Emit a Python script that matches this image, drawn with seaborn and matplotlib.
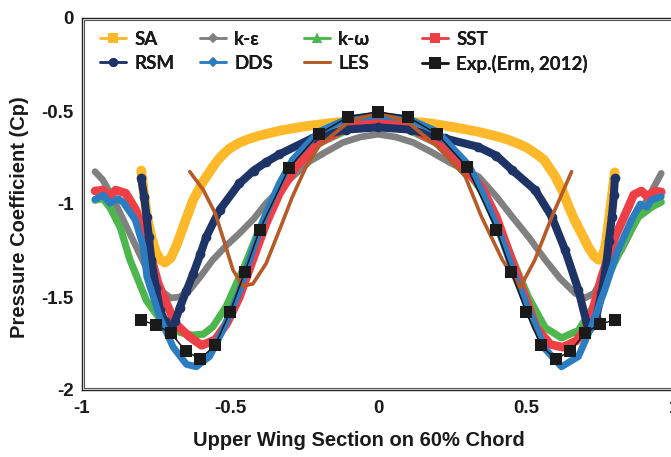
import matplotlib
matplotlib.use("Agg")
import matplotlib.pyplot as plt
import seaborn as sns
import pandas as pd
from matplotlib.lines import Line2D
from matplotlib.patches import Rectangle

# ---------------- data ----------------
sa_x = [-0.80, -0.79, -0.78, -0.765, -0.75, -0.735, -0.72, -0.70, -0.68, -0.655, -0.625, -0.593, -0.56,
        -0.54, -0.52, -0.50, -0.47, -0.44, -0.40, -0.33, -0.25, -0.165, -0.08, 0.0, 0.08, 0.18, 0.26,
        0.337, 0.41, 0.44, 0.471, 0.50, 0.52, 0.54, 0.561, 0.598, 0.625, 0.643, 0.665, 0.688, 0.71,
        0.73, 0.745, 0.757, 0.768, 0.775, 0.782, 0.79, 0.80]
sa_y = [-0.82, -0.95, -1.07, -1.18, -1.26, -1.30, -1.315, -1.29, -1.22, -1.11, -0.98, -0.885, -0.805,
        -0.762, -0.728, -0.70, -0.672, -0.652, -0.632, -0.605, -0.583, -0.566, -0.552, -0.545, -0.552,
        -0.567, -0.588, -0.611, -0.64, -0.655, -0.674, -0.695, -0.715, -0.737, -0.763, -0.85, -0.935,
        -1.01, -1.09, -1.16, -1.23, -1.28, -1.30, -1.285, -1.23, -1.15, -1.06, -0.96, -0.83]

ke_x = [-0.956, -0.93, -0.905, -0.88, -0.85, -0.82, -0.79, -0.76, -0.73, -0.70, -0.67, -0.635, -0.60,
        -0.558, -0.51, -0.468, -0.42, -0.378, -0.33, -0.289, -0.23, -0.176, -0.12, -0.06, 0.0, 0.06,
        0.12, 0.18, 0.24, 0.29, 0.34, 0.40, 0.453, 0.51, 0.565, 0.615, 0.666, 0.70, 0.73, 0.755,
        0.79, 0.823, 0.857, 0.89, 0.925, 0.957]
ke_y = [-0.826, -0.87, -0.94, -1.02, -1.12, -1.22, -1.32, -1.41, -1.47, -1.505, -1.50, -1.46, -1.39,
        -1.30, -1.22, -1.158, -1.08, -0.996, -0.92, -0.853, -0.77, -0.72, -0.67, -0.64, -0.625, -0.64,
        -0.67, -0.72, -0.775, -0.815, -0.853, -0.96, -1.068, -1.18, -1.30, -1.40, -1.48, -1.505, -1.48,
        -1.41, -1.33, -1.247, -1.14, -1.03, -0.93, -0.835]

kw_x = [-0.956, -0.93, -0.905, -0.87, -0.838, -0.782, -0.727, -0.67, -0.625, -0.59, -0.558, -0.513,
        -0.479, -0.45, -0.40, -0.35, -0.30, -0.25, -0.20, -0.10, 0.0, 0.10, 0.20, 0.30, 0.35, 0.40,
        0.45, 0.508, 0.565, 0.62, 0.677, 0.72, 0.75, 0.78, 0.834, 0.88, 0.924, 0.957]
kw_y = [-0.98, -0.97, -1.02, -1.13, -1.30, -1.52, -1.64, -1.69, -1.705, -1.70, -1.66, -1.552, -1.43,
        -1.33, -1.13, -0.96, -0.83, -0.74, -0.675, -0.60, -0.575, -0.60, -0.675, -0.82, -0.93, -1.08,
        -1.28, -1.50, -1.665, -1.72, -1.68, -1.57, -1.48, -1.378, -1.20, -1.07, -1.017, -0.99]

sst_x = [-0.956, -0.93, -0.906, -0.886, -0.852, -0.818, -0.785, -0.742, -0.686, -0.64, -0.596, -0.55,
         -0.51, -0.468, -0.423, -0.378, -0.333, -0.277, -0.2, -0.1, 0.0, 0.1, 0.2, 0.28, 0.35, 0.40,
         0.445, 0.49, 0.535, 0.582, 0.624, 0.67, 0.714, 0.755, 0.80, 0.845, 0.864, 0.89, 0.91, 0.935,
         0.957]
sst_y = [-0.93, -0.925, -0.96, -0.925, -0.942, -1.032, -1.18, -1.43, -1.64, -1.71, -1.76, -1.73, -1.64,
         -1.50, -1.30, -1.104, -0.943, -0.80, -0.67, -0.585, -0.555, -0.585, -0.67, -0.79, -0.907, -1.07,
         -1.27, -1.467, -1.665, -1.755, -1.77, -1.736, -1.64, -1.395, -1.18, -1.02, -0.95, -0.93, -0.96,
         -0.93, -0.935]

rsm_x = [-0.80, -0.79, -0.782, -0.774, -0.766, -0.75, -0.737, -0.72, -0.70, -0.685, -0.67, -0.648,
         -0.625, -0.60, -0.58, -0.535, -0.468, -0.42, -0.378, -0.333, -0.221, -0.109, 0.0, 0.11, 0.225,
         0.337, 0.40, 0.453, 0.531, 0.587, 0.632, 0.677, 0.705, 0.714, 0.725, 0.737, 0.755, 0.77,
         0.78, 0.79, 0.797, 0.80]
rsm_y = [-0.862, -0.96, -1.068, -1.18, -1.30, -1.45, -1.57, -1.63, -1.67, -1.63, -1.557, -1.47,
         -1.378, -1.27, -1.176, -1.032, -0.889, -0.82, -0.775, -0.733, -0.645, -0.60, -0.588, -0.60,
         -0.647, -0.692, -0.74, -0.817, -0.925, -1.068, -1.247, -1.462, -1.64, -1.665, -1.65, -1.61,
         -1.48, -1.34, -1.20, -1.068, -0.95, -0.862]

dds_x = [-0.956, -0.928, -0.906, -0.878, -0.861, -0.82, -0.793, -0.781, -0.737, -0.692, -0.647, -0.614,
         -0.569, -0.524, -0.468, -0.423, -0.378, -0.333, -0.289, -0.199, -0.098, 0.0, 0.098, 0.199,
         0.306, 0.35, 0.407, 0.463, 0.52, 0.565, 0.62, 0.677, 0.721, 0.765, 0.81, 0.855, 0.886, 0.908,
         0.924, 0.957]
dds_y = [-0.975, -0.952, -0.996, -0.972, -0.99, -1.086, -1.23, -1.39, -1.61, -1.77, -1.862, -1.875,
         -1.82, -1.677, -1.468, -1.247, -1.05, -0.889, -0.763, -0.61, -0.539, -0.525, -0.539, -0.61,
         -0.79, -0.93, -1.14, -1.39, -1.61, -1.78, -1.875, -1.82, -1.66, -1.467, -1.25, -1.09, -1.0,
         -1.017, -0.978, -0.96]

les_x = [-0.636, -0.59, -0.55, -0.518, -0.49, -0.457, -0.423, -0.378, -0.333, -0.289, -0.243, -0.2,
         -0.1, 0.0, 0.1, 0.2, 0.295, 0.35, 0.42, 0.48, 0.53, 0.587, 0.632, 0.654]
les_y = [-0.826, -0.925, -1.05, -1.21, -1.355, -1.44, -1.43, -1.32, -1.14, -0.96, -0.80, -0.69,
         -0.56, -0.505, -0.56, -0.69, -0.853, -1.07, -1.30, -1.45, -1.30, -1.07, -0.907, -0.826]

exp_x = [-0.80, -0.75, -0.70, -0.65, -0.60, -0.55, -0.50, -0.45, -0.40, -0.30, -0.20, -0.10, 0.0,
         0.10, 0.20, 0.30, 0.40, 0.45, 0.50, 0.55, 0.60, 0.65, 0.70, 0.75, 0.80]
exp_y = [-1.624, -1.651, -1.694, -1.790, -1.833, -1.758, -1.581, -1.366, -1.140, -0.805, -0.624,
         -0.531, -0.504, -0.531, -0.624, -0.80, -1.140, -1.364, -1.581, -1.758, -1.835, -1.790, -1.694,
         -1.645, -1.624]

x_ticks = [-1, -0.5, 0, 0.5, 1]
x_tick_labels = ["-1", "-0.5", "0", "0.5", "1"]
y_ticks = [0, -0.5, -1, -1.5, -2]
y_tick_labels = ["0", "-0.5", "-1", "-1.5", "-2"]

# ---------------- styling ----------------
sns.set_theme(style="white")
plt.rcParams["font.family"] = ["Liberation Sans", "DejaVu Sans"]
plt.rcParams["font.weight"] = "bold"

W, H = 671, 457
fig = plt.figure(figsize=(W / 100, H / 100), dpi=100)
ax_l, ax_r, ax_t, ax_b = 82, 674, 18, 390
ax = fig.add_axes([ax_l / W, 1 - ax_b / H, (ax_r - ax_l) / W, (ax_b - ax_t) / H])

C_SA = "#FDB92A"
C_KE = "#808080"
C_KW = "#4DB74D"
C_SST = "#EE3F47"
C_RSM = "#1E3466"
C_DDS = "#2B7CC1"
C_LES = "#B65A28"
C_EXP = "#1A1A1A"

def draw(x, y, color, lw, marker=None, ms=0, z=2):
    df = pd.DataFrame({"x": x, "y": y})
    sns.lineplot(data=df, x="x", y="y", ax=ax, sort=False, estimator=None, color=color,
                 linewidth=lw, marker=marker, markersize=ms, markeredgewidth=0,
                 solid_capstyle="round", solid_joinstyle="round", zorder=z, legend=False)

draw(sa_x, sa_y, C_SA, 7.0, z=2)
draw(ke_x, ke_y, C_KE, 4.8, z=3)
draw(kw_x, kw_y, C_KW, 5.2, z=4)
draw(sst_x, sst_y, C_SST, 6.2, z=5)
draw(rsm_x, rsm_y, C_RSM, 5.8, marker="o", ms=7, z=6)
draw(dds_x, dds_y, C_DDS, 5.0, z=7)
draw(les_x, les_y, C_LES, 2.6, z=8)
draw(exp_x, exp_y, C_EXP, 1.1, marker="s", ms=8.5, z=9)

ax.set_xlim(-1, 1)
ax.set_ylim(-2, 0)
ax.set_xticks(x_ticks)
ax.set_xticklabels(x_tick_labels)
ax.set_yticks(y_ticks)
ax.set_yticklabels(y_tick_labels)
ax.tick_params(axis="both", length=0, labelsize=13.5, colors="#1a1a1a")
ax.tick_params(axis="x", pad=7)
ax.tick_params(axis="y", pad=6)
for lab in ax.get_xticklabels() + ax.get_yticklabels():
    lab.set_fontweight("bold")
ax.set_xlabel("Upper Wing Section on 60% Chord", fontsize=14.5, fontweight="bold",
              color="#1a1a1a")
ax.set_ylabel("Pressure Coefficient (Cp)", fontsize=14.5, fontweight="bold",
              color="#1a1a1a")
ax.xaxis.set_label_coords((359 - ax_l) / (ax_r - ax_l), -(440 - ax_b) / (ax_b - ax_t))
ax.yaxis.set_label_coords((20 - ax_l) / (ax_r - ax_l), (ax_b - 217) / (ax_b - ax_t))
ax.xaxis.label.set_verticalalignment("center")
ax.yaxis.label.set_verticalalignment("center")
ax.grid(False)
for s in ax.spines.values():
    s.set_visible(True)
    s.set_color("#222222")
    s.set_linewidth(1.0)
# inner line of the double frame
dx = 2.4 / (ax_r - ax_l)
dy = 2.4 / (ax_b - ax_t)
ax.add_patch(Rectangle((dx, dy), 1 - 2 * dx, 1 - 2 * dy, transform=ax.transAxes, fill=False,
                       edgecolor="#555555", linewidth=0.8, zorder=10, clip_on=False))

# ---------------- legend (4 columns placed like the reference) ----------------
def h(color, marker=None, ms=0, lw=1.8):
    return Line2D([0], [0], color=color, lw=lw, marker=marker, markersize=ms,
                  markeredgewidth=0)

cols = [
    (100, [h(C_SA, "s", 7.5), h(C_RSM, "o", 6.5)], ["SA", "RSM"]),
    (200, [h(C_KE, "D", 5), h(C_DDS, "D", 5)], ["k-ε", "DDS"]),
    (304, [h(C_KW, "^", 7.5), h(C_LES, None, 0, 2.0)], ["k-ω", "LES"]),
    (422, [h(C_SST, "s", 7.5), h(C_EXP, "s", 8.5)], ["SST", "Exp.(Erm, 2012)"]),
]
for px, handles, labels in cols:
    leg = fig.legend(handles, labels, loc="upper left", bbox_to_anchor=(px / W, 1 - 31 / H),
                     frameon=False, prop={"family": ["Lato", "DejaVu Sans"],
                                          "weight": "bold", "size": 13.5},
                     handlelength=1.4, handletextpad=0.42, labelspacing=0.36,
                     borderpad=0, borderaxespad=0)
    for t in leg.get_texts():
        t.set_color("#1a1a1a")
    fig.add_artist(leg)

fig.savefig("out.png", dpi=100)
